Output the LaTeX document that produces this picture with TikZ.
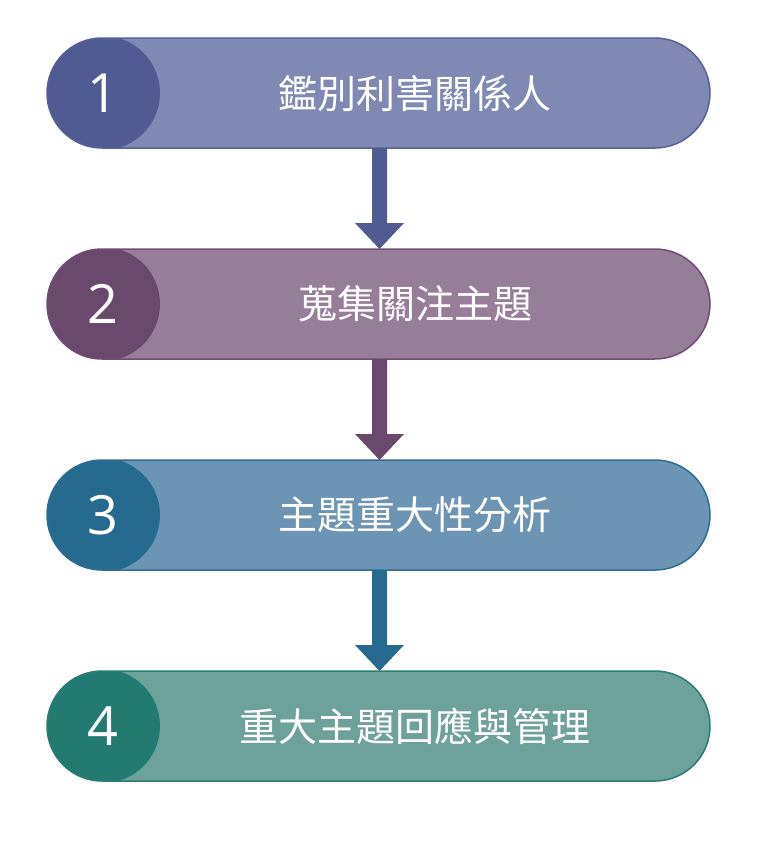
\documentclass[tikz,border=0pt]{standalone}
\usepackage{fontspec}
\newfontfamily\cjk{Noto Sans CJK TC}
\setmainfont{Open Sans}
\begin{document}
\begin{tikzpicture}[x=1pt,y=-1pt,
  lbl/.style={text=white,font=\cjk\fontsize{39}{44}\selectfont},
  num/.style={text=white,font=\fontsize{54}{60}\selectfont}]
\useasboundingbox (0,0) rectangle (770,841);
\def\mybar#1#2#3#4#5#6{%
  \begin{scope}
  \path[clip,rounded corners=55] (47,#1) rectangle (710,{#1+110});
  \fill[#3] (47,#1) rectangle (710,{#1+110});
  \fill[#2] (103,{#1+55}) circle (57);
  \end{scope}
  \draw[#4,line width=1.5pt,rounded corners=55] (47,#1) rectangle (710,{#1+110});
  \node[num] (n#6) at (103,{#1+55}) {#6};
  \node[lbl] (t#6) at (415,{#1+55}) {#5};
}
\definecolor{la}{HTML}{8088B4}\definecolor{da}{HTML}{4F5B92}\definecolor{ba}{HTML}{56609A}
\definecolor{lb}{HTML}{977E98}\definecolor{db}{HTML}{6A4A6C}\definecolor{bb}{HTML}{6E4E72}
\definecolor{lc}{HTML}{6C95B5}\definecolor{dc}{HTML}{276A8F}\definecolor{bc}{HTML}{2D6E94}
\definecolor{ld}{HTML}{6CA29A}\definecolor{dd}{HTML}{237A70}\definecolor{bd}{HTML}{2A7D74}
\mybar{38}{da}{la}{ba}{鑑別利害關係人}{1}
\mybar{249}{db}{lb}{bb}{蒐集關注主題}{2}
\mybar{460}{dc}{lc}{bc}{主題重大性分析}{3}
\mybar{671}{dd}{ld}{bd}{重大主題回應與管理}{4}
\def\arr#1#2{\fill[#2] (372,#1) -- (387,#1) -- (387,{#1+75}) -- (404,{#1+75}) -- (379.5,{#1+101}) -- (355,{#1+75}) -- (372,{#1+75}) -- cycle;}
\arr{148}{da}
\arr{359}{db}
\arr{570}{dc}
\end{tikzpicture}
\end{document}
